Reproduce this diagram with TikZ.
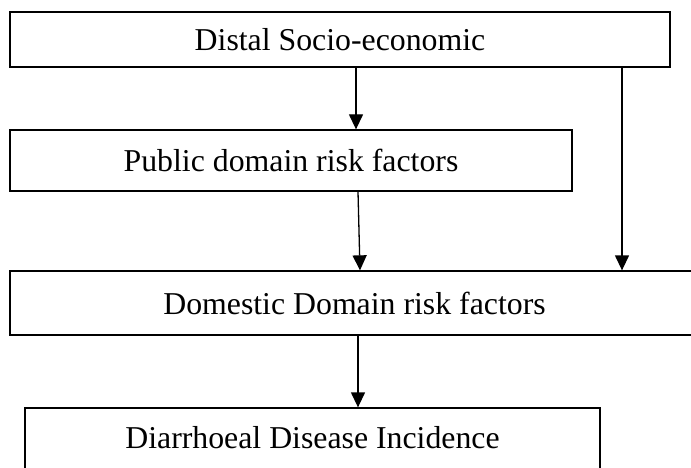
\documentclass[tikz,border=0pt]{standalone}
\usepackage{fontspec}
\setmainfont{Liberation Serif}
\usetikzlibrary{arrows.meta}
\begin{document}
\begin{tikzpicture}[x=1pt,y=-1pt,
  box/.style={draw=black,line width=1.3pt,rectangle,inner sep=0pt,
    font=\fontsize{31.8}{36}\selectfont,text=black},
  arr/.style={line width=1.3pt,-{Triangle[width=14pt,length=15pt]}}]
\clip (0,0) rectangle (691,468);
\fill[white] (0,0) rectangle (691,468);
\node[box,minimum width=660pt,minimum height=55pt] (b1) at (340,39.5) {Distal Socio-economic};
\node[box,minimum width=562pt,minimum height=61pt] (b2) at (291,160.5) {Public domain risk factors};
\node[box,minimum width=689pt,minimum height=64pt] (b3) at (354.5,303) {Domestic Domain risk factors};
\node[box,minimum width=575pt,minimum height=70pt,text depth=12pt] (b4) at (312.5,443) {Diarrhoeal Disease Incidence};
\coordinate (xa) at (356,0);
\coordinate (xb) at (358,0);
\coordinate (xc) at (360,0);
\coordinate (xr) at (622,0);
\draw[arr] (xa |- b1.south) -- (xa |- b2.north);
\draw[arr] (xb |- b2.south) -- (xc |- b3.north);
\draw[arr] (xr |- b1.south) -- (xr |- b3.north);
\draw[arr] (xb |- b3.south) -- (xb |- b4.north);
\end{tikzpicture}
\end{document}
